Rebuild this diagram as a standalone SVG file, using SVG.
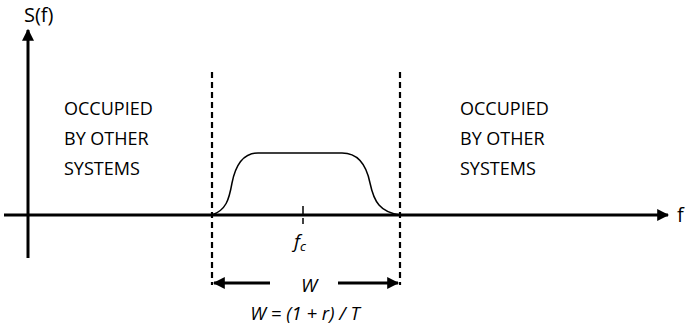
<svg xmlns="http://www.w3.org/2000/svg" width="687" height="327" viewBox="0 0 687 327">
<style>
.t{font-family:"Open Sans","Liberation Sans",sans-serif;font-size:18px;fill:#000}
.lg{font-size:20px}
.i{font-style:italic;font-size:19px}
.ax{stroke:#000;stroke-width:3;fill:none}
.dash{stroke:#000;stroke-width:2.2;stroke-dasharray:6,4;fill:none}
.ln{stroke:#000;stroke-width:1.5;fill:none}
</style>
<defs>
<marker id="ah" viewBox="0 0 10 10" refX="9" refY="5" markerWidth="4" markerHeight="4" orient="auto-start-reverse" markerUnits="strokeWidth">
<path d="M0,0 L10,5 L0,10 z" fill="#000"/>
</marker>
</defs>
<g id="connectors">
<line class="ax" x1="4" y1="215" x2="668" y2="215" marker-end="url(#ah)"/>
<line class="ax" x1="28" y1="258" x2="28" y2="30" marker-end="url(#ah)"/>
<line class="dash" x1="212" y1="72" x2="212" y2="285"/>
<line class="dash" x1="400" y1="72" x2="400" y2="285"/>
<line class="ax" x1="270" y1="283" x2="214" y2="283" marker-end="url(#ah)"/>
<line class="ax" x1="338" y1="283" x2="398" y2="283" marker-end="url(#ah)"/>
<line class="ln" x1="303" y1="206" x2="303" y2="214"/>
<line class="ln" x1="303" y1="218" x2="303" y2="224"/>
</g>
<g id="spectrum">
<path class="ln" d="M212,215 C226,210 229,200 232,183 C236,163 245,153 258,153 L342,153 C356,153 366,163 370,183 C374,202 380,212 400,215"/>
</g>
<g id="labels">
<text class="t lg" x="24" y="22">S(f)</text>
<text class="t lg" x="677" y="222">f</text>
<text class="t i" x="294" y="248">f<tspan style="font-size:13px" dy="3">c</tspan></text>
<text class="t i" x="309" y="292" text-anchor="middle">W</text>
<text class="t i" x="305" y="320" text-anchor="middle" style="font-size:18.5px">W = (1 + r) / T</text>
</g>
<g id="left-region">
<text class="t" x="64" y="115">OCCUPIED</text>
<text class="t" x="64" y="145">BY OTHER</text>
<text class="t" x="64" y="175">SYSTEMS</text>
</g>
<g id="right-region">
<text class="t" x="460" y="115">OCCUPIED</text>
<text class="t" x="460" y="145">BY OTHER</text>
<text class="t" x="460" y="175">SYSTEMS</text>
</g>
</svg>
